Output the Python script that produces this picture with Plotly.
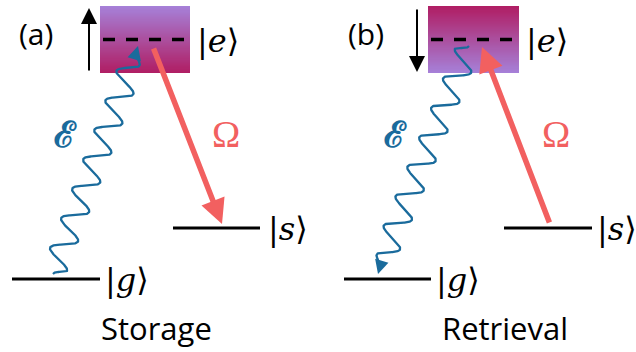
import numpy as np
import plotly.graph_objects as go

# ---- diagram data (pixel-space coordinates of the Lambda scheme) ----
panels = ["(a)", "(b)"]
captions = ["Storage", "Retrieval"]
panel_offset = [0, 330]           # horizontal offset of each panel
ground_level = [279, 279]         # |g> level height
spin_level = [228, 228]           # |s> level height
excited_level = [39.5, 39.5]      # |e> virtual level
box_top, box_bottom = 6, 73

RED = "#f26060"
BLUE = "#1a6b9c"
LAV = "#a680d8"
MAG = "#b01e64"

fig = go.Figure()

def wave(x0, y0, x1, y1, periods=7.5, amp=12, n=800):
    t = np.linspace(0, 1, n)
    dx, dy = x1 - x0, y1 - y0
    L = np.hypot(dx, dy)
    ux, uy = dx / L, dy / L
    px, py = -uy, ux
    env = np.clip(np.minimum(t / 0.03, (1 - t) / 0.06), 0, 1)
    s = amp * env * np.sin(2 * np.pi * periods * t)
    return x0 + dx * t + px * s, y0 + dy * t + py * s

for i, off in enumerate(panel_offset):
    # gradient box
    bx0, bx1 = 100 + off - (2 if i else 0), 190 + off - (1 if i else 0)
    ny = 60
    yedges = np.linspace(box_top, box_bottom, ny + 1)
    z = [[k / (ny - 1)] for k in range(ny)]
    cs = [[0, LAV], [1, MAG]] if i == 0 else [[0, MAG], [1, LAV]]
    fig.add_trace(go.Heatmap(x=[bx0, bx1], y=yedges, z=z, colorscale=cs,
                             showscale=False, hoverinfo="skip"))
    # dashed virtual level
    fig.add_trace(go.Scatter(x=[bx0 + 3, bx1 - 3], y=[excited_level[i]] * 2, mode="lines",
                             line=dict(color="black", width=3.5, dash="12px,11px"),
                             hoverinfo="skip"))
    # ground and spin levels
    gx = (12 + off + (2 if i else 0), 100 + off + (1 if i else 0))
    sx = (173 + off + (1 if i else 0), 260 + off + (2 if i else 0))
    fig.add_shape(type="line", x0=gx[0], x1=gx[1], y0=ground_level[i], y1=ground_level[i],
                  line=dict(color="black", width=3))
    fig.add_shape(type="line", x0=sx[0], x1=sx[1], y0=spin_level[i], y1=spin_level[i],
                  line=dict(color="black", width=3))
    # energy shift arrow
    ax_x = 89 + off - (2 if i else 0)
    if i == 0:
        tail, head = 72, 8
    else:
        tail, head = 8, 72
    fig.add_annotation(x=ax_x, y=head, ax=ax_x, ay=tail, xref="x", yref="y",
                       axref="x", ayref="y", showarrow=True, arrowhead=2,
                       arrowsize=1.6, arrowwidth=2, arrowcolor="black", text="")
    # labels
    ketfont = dict(family="DejaVu Serif", size=32, color="black")
    fig.add_annotation(x=bx1 + 5, y=excited_level[i] + 1, text="|<i>e</i>⟩", showarrow=False,
                       xanchor="left", yanchor="middle", font=ketfont)
    fig.add_annotation(x=gx[1] + 3, y=ground_level[i] + 1, text="|<i>g</i>⟩", showarrow=False,
                       xanchor="left", yanchor="middle", font=ketfont)
    fig.add_annotation(x=sx[1] + (6 if i == 0 else 3), y=spin_level[i] + 1, text="|<i>s</i>⟩",
                       showarrow=False, xanchor="left", yanchor="middle", font=ketfont)
    fig.add_annotation(x=36 + off, y=33, text=panels[i], showarrow=False,
                       font=dict(family="Open Sans", size=30, color="black"))
    fig.add_annotation(x=[156, 505][i], y=328, text=captions[i], showarrow=False,
                       font=dict(family="Open Sans", size=31, color="black"))
    # Omega label
    fig.add_annotation(x=226 + off, y=134, text="Ω", showarrow=False,
                       font=dict(family="Liberation Serif", size=38, color=RED))
    # epsilon label
    fig.add_annotation(x=65 + off, y=134, text="<b>ℰ</b>", showarrow=False,
                       font=dict(family="DejaVu Serif", size=36, color=BLUE))

# Omega arrows
fig.add_annotation(x=222, y=224, ax=153, ay=47, xref="x", yref="y", axref="x", ayref="y",
                   showarrow=True, arrowhead=2, arrowsize=0.9, arrowwidth=5.5,
                   arrowcolor=RED, text="")
fig.add_annotation(x=482, y=47, ax=550, ay=224, xref="x", yref="y", axref="x", ayref="y",
                   showarrow=True, arrowhead=2, arrowsize=0.9, arrowwidth=5.5,
                   arrowcolor=RED, text="")

# wavy probe fields
wx, wy = wave(53, 274, 136, 53)
fig.add_trace(go.Scatter(x=wx, y=wy, mode="lines", line=dict(color=BLUE, width=2.3),
                         hoverinfo="skip"))
fig.add_annotation(x=138, y=46, ax=wx[-1], ay=wy[-1], xref="x", yref="y", axref="x",
                   ayref="y", showarrow=True, arrowhead=2, arrowsize=1.2, arrowwidth=2.3,
                   arrowcolor=BLUE, text="")
wx2, wy2 = wave(469, 46, 380, 267)
fig.add_trace(go.Scatter(x=wx2, y=wy2, mode="lines", line=dict(color=BLUE, width=2.3),
                         hoverinfo="skip"))
fig.add_annotation(x=378, y=274, ax=wx2[-1], ay=wy2[-1], xref="x", yref="y", axref="x",
                   ayref="y", showarrow=True, arrowhead=2, arrowsize=1.2, arrowwidth=2.3,
                   arrowcolor=BLUE, text="")

fig.update_layout(width=636, height=352, margin=dict(l=0, r=0, t=0, b=0),
                  paper_bgcolor="white", plot_bgcolor="white", showlegend=False,
                  xaxis=dict(range=[0, 636], visible=False, fixedrange=True),
                  yaxis=dict(range=[352, 0], visible=False, fixedrange=True))
fig.write_html("out.html", config={"displayModeBar": False},
               post_script="document.body.style.margin='0';")
